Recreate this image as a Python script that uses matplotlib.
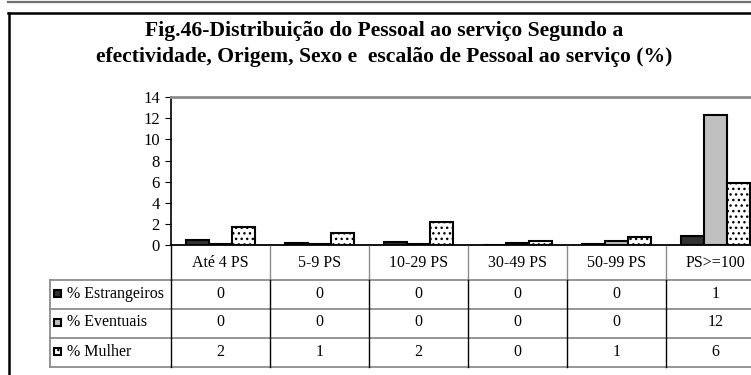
import matplotlib.pyplot as plt
from matplotlib.lines import Line2D
from matplotlib.patches import Rectangle

plt.rcParams['font.family'] = ['Liberation Serif', 'DejaVu Serif']

categorias = ["Até 4 PS", "5-9 PS", "10-29 PS", "30-49 PS", "50-99 PS", "PS>=100"]
series = ["% Estrangeiros", "% Eventuais", "% Mulher"]
estrangeiros = [0.48, 0.28, 0.35, 0.05, 0.1, 0.85]
eventuais = [0.1, 0.15, 0.15, 0.2, 0.4, 12.3]
mulher = [1.7, 1.15, 2.2, 0.47, 0.76, 5.85]
# valores arredondados mostrados na tabela
tab_estrangeiros = [0, 0, 0, 0, 0, 1]
tab_eventuais = [0, 0, 0, 0, 0, 12]
tab_mulher = [2, 1, 2, 0, 1, 6]
yticks = [0, 2, 4, 6, 8, 10, 12, 14]

W, H = 751, 375
cat_px = 99          # largura de cada categoria em pixeis
x0_px = 171          # eixo y

fig = plt.figure(figsize=(W / 100, H / 100), dpi=100)

# moldura
fig.add_artist(Line2D([8 / W, 1], [1 - 1.5 / H] * 2, color='#707070', lw=1.6))
fig.add_artist(Line2D([8 / W, 1], [1 - 13 / H] * 2, color='black', lw=1.8))
fig.add_artist(Line2D([8.5 / W] * 2, [0, 1 - 13 / H], color='black', lw=1.8))

fig.text(384 / W, 1 - 44 / H,
         "Fig.46-Distribuição do Pessoal ao serviço Segundo a\n"
         "efectividade, Origem, Sexo e  escalão de Pessoal ao serviço (%)",
         ha='center', va='center', fontsize=15.6, fontweight='bold', linespacing=1.35)

# grafico de barras
ax = fig.add_axes([x0_px / W, 1 - 245.5 / H, (W - x0_px) / W, 148.5 / H])
xmax = (W - x0_px) / cat_px
bw = 0.23
cores = ['#333333', '#c0c0c0', 'white']
hatches = [None, None, '...']
for k, vals in enumerate([estrangeiros, eventuais, mulher]):
    xs = [i + 0.5 + (k - 1) * bw for i in range(len(categorias))]
    ax.bar(xs, vals, width=bw, color=cores[k], edgecolor='black',
           linewidth=1.5, hatch=hatches[k], label=series[k])
ax.set_xlim(0, xmax)
ax.set_ylim(0, 14)
ax.set_yticks(yticks)
ax.set_xticks([])
ax.tick_params(axis='y', direction='out', length=4, labelsize=12, pad=4)
ax.spines['right'].set_visible(False)
ax.spines['top'].set_color('#8c8c8c')
ax.spines['top'].set_linewidth(2)
ax.spines['left'].set_linewidth(1.2)
ax.spines['bottom'].set_linewidth(1.3)
ax.patch.set_alpha(0)

# tabela de dados
tax = fig.add_axes([50 / W, 1 - 367 / H, (W - 50) / W, 121 / H])
left = (50 - x0_px) / cat_px
tax.set_xlim(left, xmax)
tax.set_ylim(367, 246)
tax.axis('off')

linhas_y = [280, 309, 338, 367]
for y in linhas_y:
    tax.plot([left, xmax], [y, y], color='#8c8c8c', lw=1.3, clip_on=False)
tax.plot([left, left], [280, 367], color='#8c8c8c', lw=1.3, clip_on=False)
for i in range(len(categorias)):
    tax.plot([i, i], [246, 280], color='#8c8c8c' if i else 'black', lw=1, clip_on=False)
    tax.plot([i, i], [280, 367], color='black', lw=1, clip_on=False)

for i, c in enumerate(categorias):
    tax.text(i + 0.5, 263, c, ha='center', va='center', fontsize=11.5)

tabela = [tab_estrangeiros, tab_eventuais, tab_mulher]
for r, (nome, vals) in enumerate(zip(series, tabela)):
    yc = 293.5 + 29 * r
    tax.add_patch(Rectangle(((54 - x0_px) / cat_px, yc - 3.5), 7 / cat_px, 7,
                            facecolor=cores[r], edgecolor='black', lw=1.5,
                            hatch=hatches[r], clip_on=False))
    tax.text((67 - x0_px) / cat_px, yc, nome, ha='left', va='center', fontsize=11.5)
    for i, v in enumerate(vals):
        tax.text(i + 0.5, yc, str(v), ha='center', va='center', fontsize=11.5)

fig.savefig('out.png', dpi=100)
